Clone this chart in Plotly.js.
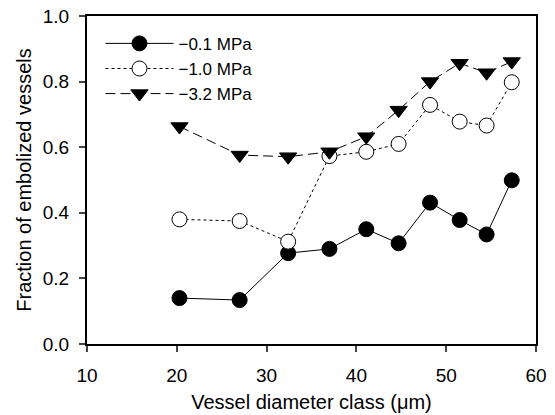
<!DOCTYPE html>
<html><head><meta charset="utf-8">
<script src="https://cdn.plot.ly/plotly-3.0.1.min.js"></script>
<style>body{margin:0;background:#fff}#c{width:555px;height:415px}</style>
</head><body><div id="c"></div>
<script>
const diameterClass = [20.3, 27.0, 32.4, 37.0, 41.1, 44.7, 48.2, 51.5, 54.5, 57.3];
const frac01 = [0.140, 0.134, 0.277, 0.290, 0.350, 0.307, 0.431, 0.378, 0.334, 0.499];
const frac10 = [0.380, 0.375, 0.312, 0.573, 0.586, 0.610, 0.729, 0.678, 0.666, 0.798];
const frac32 = [0.663, 0.576, 0.571, 0.586, 0.632, 0.713, 0.800, 0.856, 0.827, 0.861];
const seriesNames = ['\u22120.1 MPa', '\u22121.0 MPa', '\u22123.2 MPa'];

const traces = [
  {x: diameterClass, y: frac01, name: seriesNames[0], mode: 'lines+markers',
   line: {color: '#000', width: 1, dash: 'solid'},
   marker: {symbol: 'circle', size: 15, color: '#000', line: {color: '#000', width: 1}}},
  {x: diameterClass, y: frac10, name: seriesNames[1], mode: 'lines+markers',
   line: {color: '#000', width: 1, dash: 'dot'},
   marker: {symbol: 'circle', size: 15, color: '#fff', line: {color: '#000', width: 1}}},
  {x: diameterClass, y: frac32, name: seriesNames[2], mode: 'lines+markers',
   line: {color: '#000', width: 1, dash: '10px,5px'},
   marker: {symbol: 'triangle-down', size: 15, color: '#000', line: {color: '#000', width: 1}}}
];

const layout = {
  width: 555, height: 415,
  margin: {l: 87, r: 19, t: 16, b: 71},
  paper_bgcolor: '#fff', plot_bgcolor: '#fff',
  font: {family: 'Liberation Sans, Arial, sans-serif', color: '#000', size: 18},
  showlegend: true,
  legend: {x: 0.03, y: 0.97, xanchor: 'left', yanchor: 'top', bgcolor: 'rgba(0,0,0,0)',
           font: {size: 17}, tracegroupgap: 0, itemwidth: 68},
  xaxis: {range: [10, 60], tickvals: [10, 20, 30, 40, 50, 60], ticks: 'outside', ticklen: 6,
          tickwidth: 2, showline: true, linewidth: 2, linecolor: '#000', mirror: true,
          showgrid: false, zeroline: false, tickfont: {size: 19}, ticklabelstandoff: 7,
          title: {text: 'Vessel diameter class (\u03bcm)', font: {size: 20}, standoff: 10}},
  yaxis: {range: [0, 1], tickvals: [0, 0.2, 0.4, 0.6, 0.8, 1.0], tickformat: '.1f',
          ticks: 'outside', ticklen: 6, tickwidth: 2, showline: true, linewidth: 2,
          linecolor: '#000', mirror: true, showgrid: false, zeroline: false, tickfont: {size: 19},
          ticklabelstandoff: 6,
          title: {text: 'Fraction of embolized vessels', font: {size: 20}, standoff: 6}}
};

Plotly.newPlot('c', traces, layout, {displayModeBar: false, staticPlot: true});
</script></body></html>
